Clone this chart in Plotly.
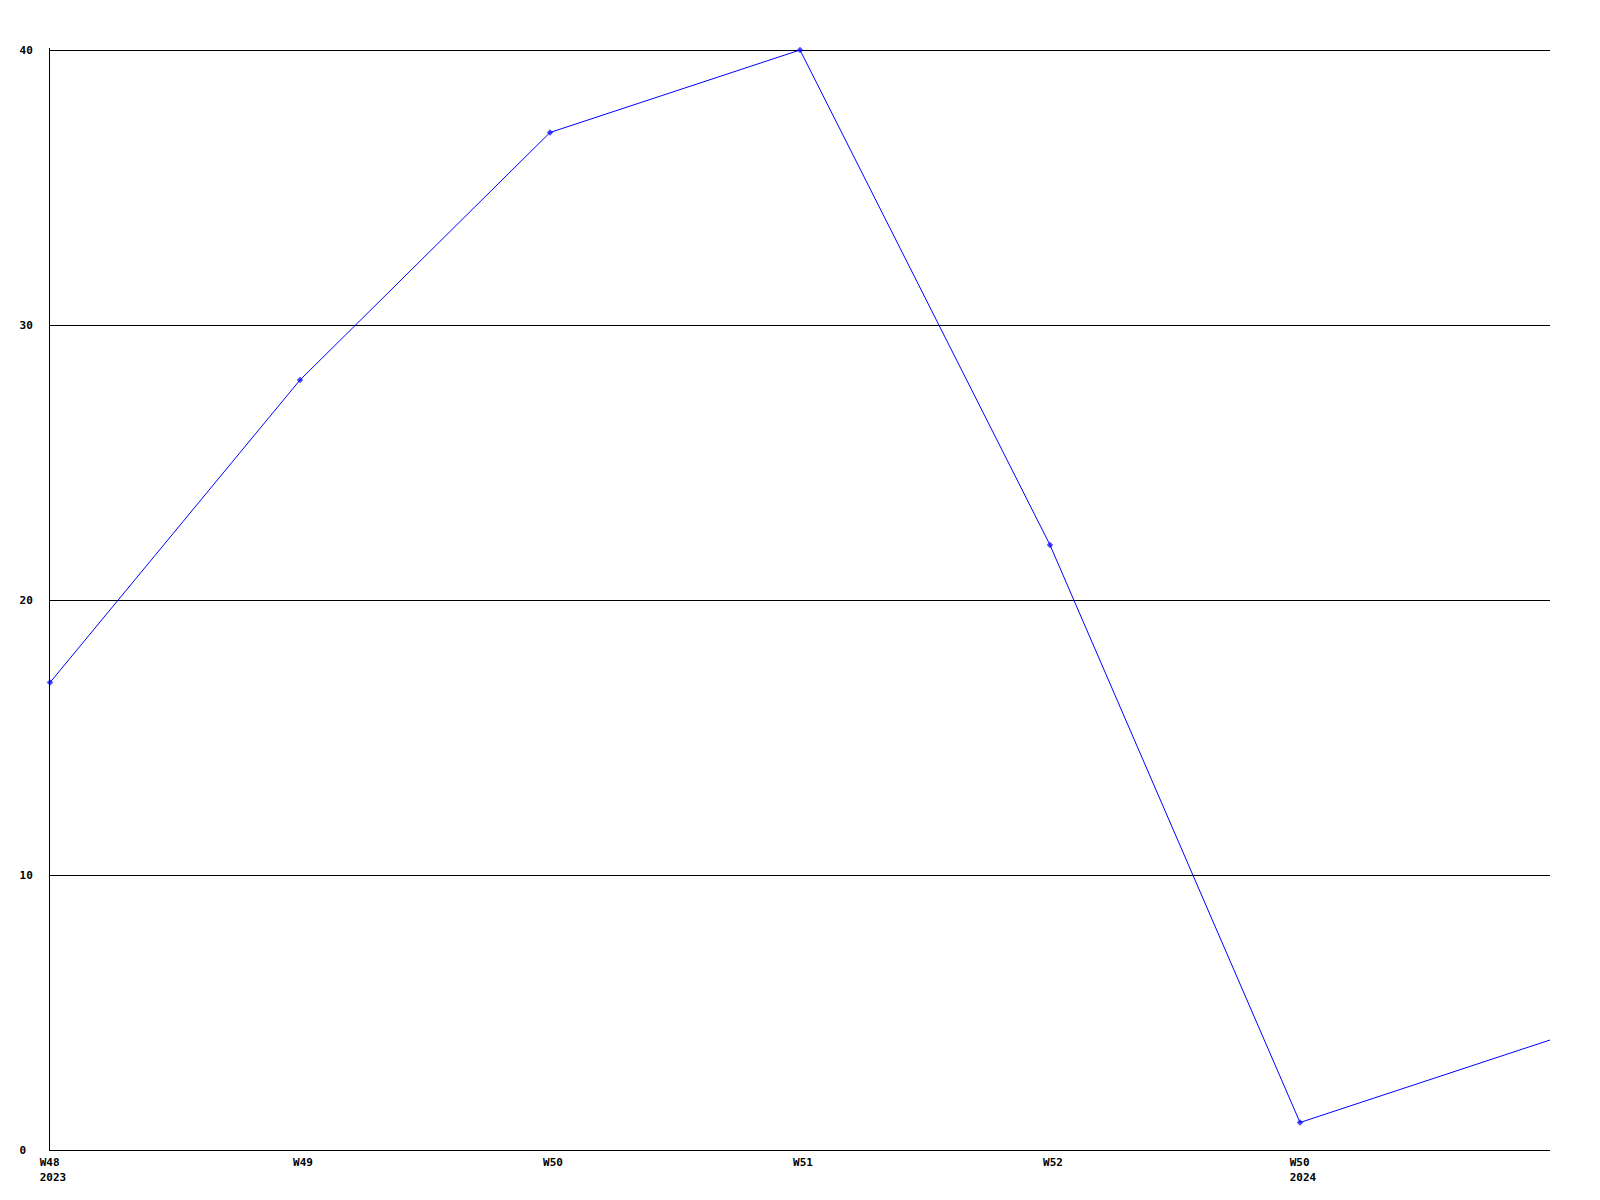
import plotly.graph_objects as go

weeks = ["W48\u00a0<br>2023", "W49", "W50", "W51", "W52", "W50\u00a0<br>2024"]
values = [17, 28, 37, 40, 22, 1, 4]
y_ticks = [0, 10, 20, 30, 40]
y_ticktext = ["0\u00a0", "10", "20", "30", "40"]

x = list(range(len(values)))
sizes = [5] * len(weeks) + [0] * (len(values) - len(weeks))

fig = go.Figure()
fig.add_trace(go.Scatter(
    x=x, y=values, mode="lines+markers",
    line=dict(color="#0000ff", width=1),
    marker=dict(symbol="diamond", size=sizes, color="#0000ff", line=dict(width=0)),
    cliponaxis=False, showlegend=False,
))

font = dict(family="DejaVu Sans Mono", size=11, color="black", weight="bold")
fig.update_layout(
    width=1584, height=1184,
    margin=dict(l=42, r=42, t=40, b=42),
    plot_bgcolor="white", paper_bgcolor="white",
    font=font,
)
fig.update_xaxes(
    range=[0, len(weeks)], tickmode="array", tickvals=list(range(len(weeks))),
    ticktext=weeks, showgrid=False, zeroline=False, showline=True,
    linecolor="black", linewidth=1, ticks="", tickfont=font,
    ticklabelshift=3, ticklabelstandoff=2, automargin=False,
)
fig.update_yaxes(
    range=[0, 40 * 1102 / 1100], tickmode="array", tickvals=y_ticks, ticktext=y_ticktext,
    showgrid=True, gridcolor="black", gridwidth=1, zeroline=False,
    showline=True, linecolor="black", linewidth=1, ticks="", tickfont=font,
    ticklabelstandoff=14, automargin=False,
)
fig.write_html("out.html")
